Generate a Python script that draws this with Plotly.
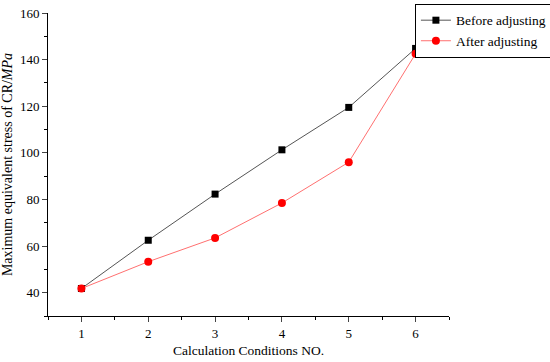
import plotly.graph_objects as go

conditions = [1, 2, 3, 4, 5, 6]
before_adjusting = [41.8, 62.5, 82.3, 101.3, 119.5, 144.8]
after_adjusting = [41.8, 53.3, 63.5, 78.5, 96.0, 142.5]

font = "Liberation Serif, Times New Roman, serif"

fig = go.Figure()
fig.add_trace(go.Scatter(
    x=conditions, y=before_adjusting, mode="lines+markers", name="Before adjusting",
    line=dict(color="#555555", width=1),
    marker=dict(symbol="square", size=7, color="black"),
))
fig.add_trace(go.Scatter(
    x=conditions, y=after_adjusting, mode="lines+markers", name="After adjusting",
    line=dict(color="#ff7070", width=1),
    marker=dict(symbol="circle", size=8, color="red"),
))

fig.update_layout(
    width=550, height=362,
    margin=dict(l=48, r=101, t=13, b=46, autoexpand=False),
    plot_bgcolor="white", paper_bgcolor="white",
    font=dict(family=font, size=13, color="black"),
    showlegend=True,
    legend=dict(x=0.915, y=1.03, xanchor="left", yanchor="top",
                bordercolor="black", borderwidth=1, bgcolor="white",
                font=dict(size=13.5), tracegroupgap=0, itemwidth=30),
    xaxis=dict(range=[0.5, 6.5], tickvals=conditions, ticks="outside", ticklen=5, automargin=False,
               showline=True, linecolor="black", linewidth=1, showgrid=False, zeroline=False,
               minor=dict(tickvals=[0.5, 1.5, 2.5, 3.5, 4.5, 5.5, 6.5], ticks="outside", ticklen=3, tickcolor="black"),
               title=dict(text="Calculation Conditions NO.", standoff=5, font=dict(size=13.5))),
    yaxis=dict(range=[30, 160], tickvals=[40, 60, 80, 100, 120, 140, 160], ticks="outside", ticklen=5, automargin=False,
               showline=True, linecolor="black", linewidth=1, showgrid=False, zeroline=False,
               minor=dict(tickvals=[30, 50, 70, 90, 110, 130, 150], ticks="outside", ticklen=3, tickcolor="black"),
               title=dict(text="Maximum equivalent stress of CR/<i>MPa</i>", standoff=5, font=dict(size=14))),
)

fig.write_html("out.html", config={"displayModeBar": False},
               post_script="document.body.style.margin='0';")
